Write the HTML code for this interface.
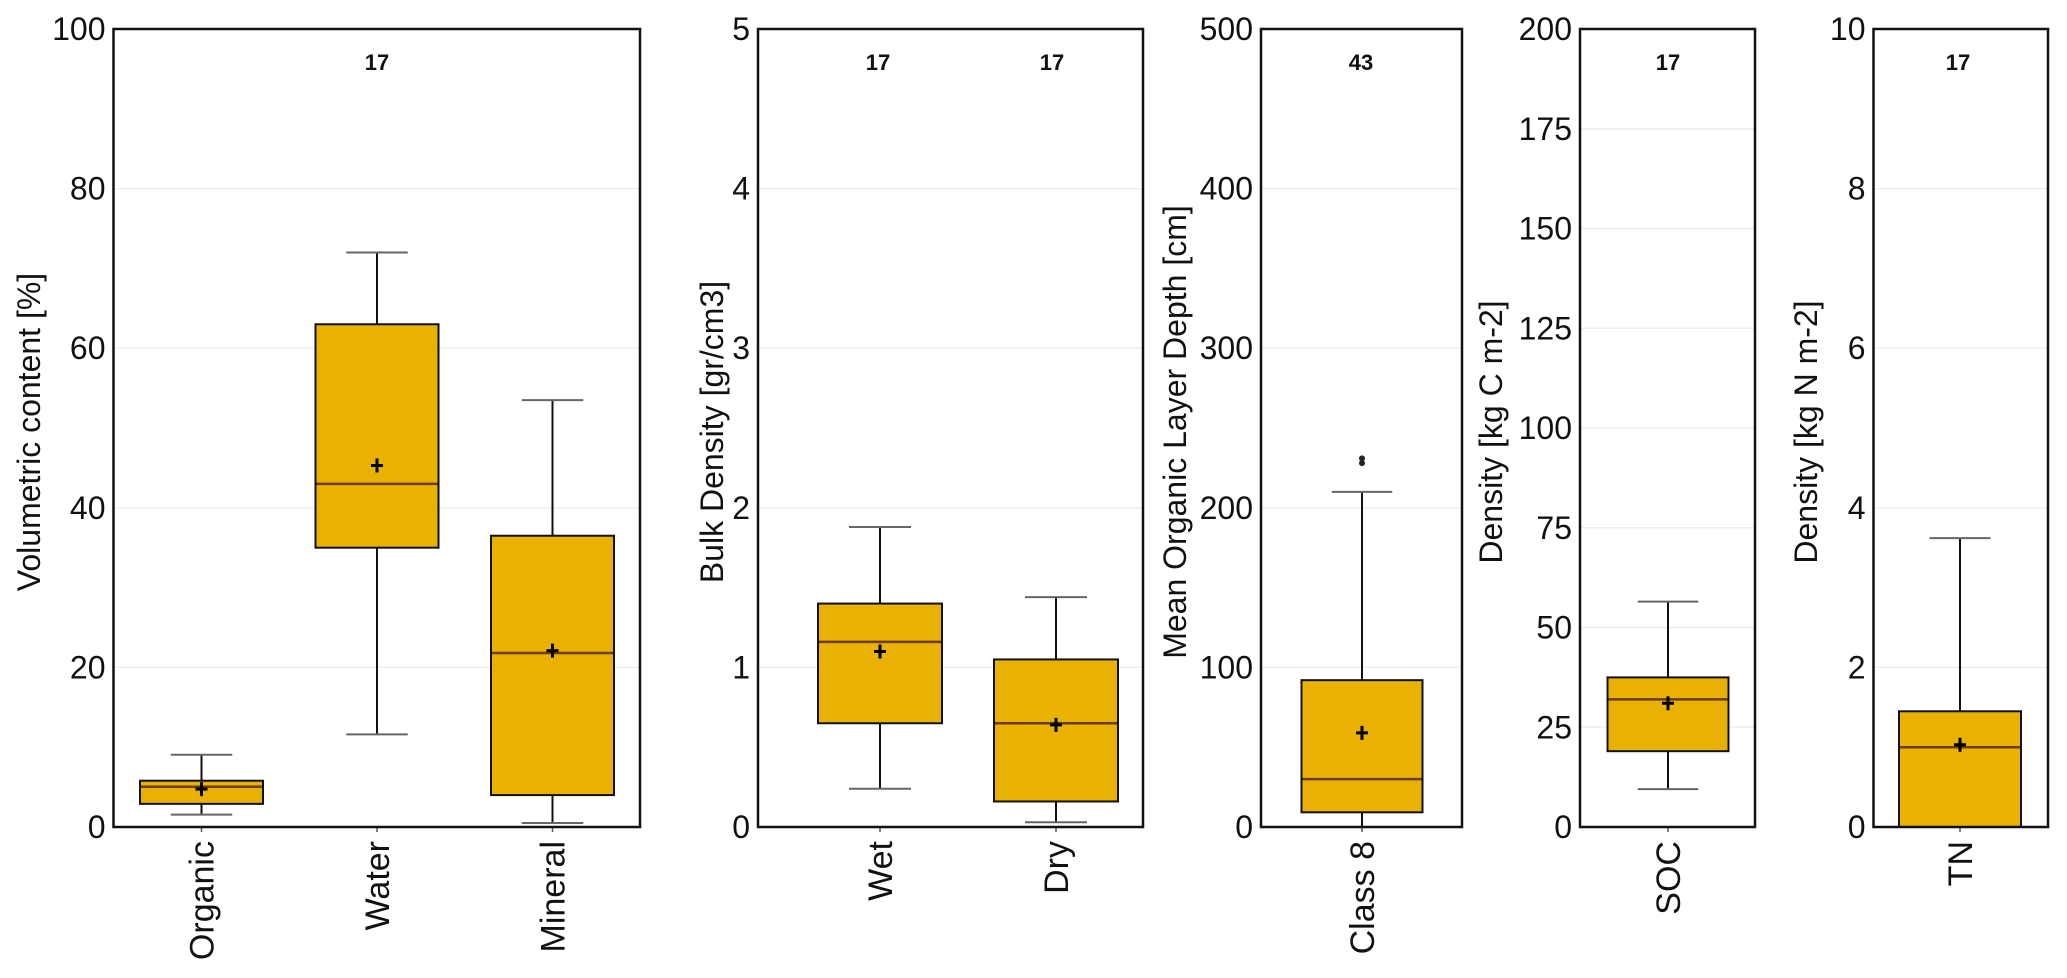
<!DOCTYPE html>
<html><head><meta charset="utf-8"><style>
html,body{margin:0;padding:0;background:#fff;}
svg{display:block;font-family:"Liberation Sans",Arial,sans-serif;}
</style></head><body>
<svg id="chart" width="2067" height="978" viewBox="0 0 2067 978" xmlns="http://www.w3.org/2000/svg"></svg>
<script>
// ---- data arrays ----
const categories = [["Organic","Water","Mineral"],["Wet","Dry"],["Class 8"],["SOC"],["TN"]];
const whiskerLow = [[1.55,11.6,0.5],[0.24,0.03],[0],[9.5],[0]];
const q1Values = [[2.9,35,4.0],[0.65,0.16],[9.2],[19],[0]];
const medianValues = [[5.05,43,21.8],[1.16,0.65],[30],[32],[1.0]];
const q3Values = [[5.8,63,36.5],[1.40,1.05],[92],[37.5],[1.45]];
const whiskerHigh = [[9.05,72,53.5],[1.88,1.44],[210],[56.5],[3.62]];
const meanValues = [[4.75,45.3,22.1],[1.1,0.64],[59],[31],[1.03]];
const outlierValues = [[[],[],[]],[[],[]],[[228,231]],[[]],[[]]];
const countLabels = [["","17",""],["17","17"],["43"],["17"],["17"]];
const yMaxValues = [100,5,500,200,10];
const yTicks = [[0,20,40,60,80,100],[0,1,2,3,4,5],[0,100,200,300,400,500],[0,25,50,75,100,125,150,175,200],[0,2,4,6,8,10]];
const yTitles = ["Volumetric content [%]","Bulk Density [gr/cm3]","Mean Organic Layer Depth [cm]","Density [kg C m-2]","Density [kg N m-2]"];

// ---- layout (not data) ----
const panels = [
 {l:113.5,r:640,centers:[201.5,377,552.5],bw:123,countX:[null,377,null],titleX:29},
 {l:758,r:1143,centers:[880,1056],bw:124,countX:[878,1052],titleX:712},
 {l:1261,r:1462,centers:[1362],bw:121,countX:[1361],titleX:1175},
 {l:1580,r:1755,centers:[1668],bw:121,countX:[1668],titleX:1491},
 {l:1873.5,r:2048,centers:[1960],bw:122,countX:[1958],titleX:1806}
];
const TOP=29, BOT=827;
const svg=document.getElementById('chart');
const NS='http://www.w3.org/2000/svg';
function mk(tag,attrs,parent){const e=document.createElementNS(NS,tag);for(const k in attrs)e.setAttribute(k,attrs[k]);(parent||svg).appendChild(e);return e;}

panels.forEach((p,pi)=>{
  const g=mk('g',{});
  
  
  const y=v=>BOT-(v/yMaxValues[pi])*(BOT-TOP);
  yTicks[pi].forEach(t=>{
    const yy=y(t);
    if(t>0&&t<yMaxValues[pi]){
      const gl=mk('line',{x1:p.l,x2:p.r,y1:yy,y2:yy,stroke:'#eeeeee','stroke-width':1.5},g);
      
      
    }
    const tl=mk('text',{x:p.l-8,y:yy+11,'text-anchor':'end','font-size':32,fill:'#111'},g);
    tl.textContent=t;
    
    
  });
  const tt=mk('text',{x:p.titleX,y:432,'text-anchor':'middle','font-size':32,fill:'#111',transform:`rotate(-90 ${p.titleX} 432)`,dy:11},g);
  tt.textContent=yTitles[pi];
  
  
  categories[pi].forEach((c,ci)=>{
    const cx=p.centers[ci], bw=p.bw, cap=bw/2;
    const bg=mk('g',{},g);
    
    
    const lo=y(whiskerLow[pi][ci]), q1=y(q1Values[pi][ci]), md=y(medianValues[pi][ci]), q3=y(q3Values[pi][ci]), hi=y(whiskerHigh[pi][ci]);
    mk('line',{x1:cx,x2:cx,y1:hi,y2:q3,stroke:'#111','stroke-width':2},bg);
    mk('line',{x1:cx,x2:cx,y1:q1,y2:lo,stroke:'#111','stroke-width':2},bg);
    mk('line',{x1:cx-cap/2,x2:cx+cap/2,y1:hi,y2:hi,stroke:'#666','stroke-width':2},bg);
    mk('line',{x1:cx-cap/2,x2:cx+cap/2,y1:lo,y2:lo,stroke:'#666','stroke-width':2},bg);
    const rect=mk('rect',{x:cx-bw/2,y:q3,width:bw,height:Math.max(0,q1-q3),fill:'#E9B104',stroke:'#111','stroke-width':2},bg);
    
    
    mk('line',{x1:cx-bw/2+1,x2:cx+bw/2-1,y1:md,y2:md,stroke:'#6a3d00','stroke-width':2.5},bg);
    const mn=y(meanValues[pi][ci]);
    mk('path',{d:`M${cx-6} ${mn}H${cx+6}M${cx} ${mn-7}V${mn+7}`,stroke:'#000','stroke-width':3},bg);
    outlierValues[pi][ci].forEach(o=>{
      const d=mk('circle',{cx:cx,cy:y(o),r:3,fill:'#222'},bg);
      
      
    });
    mk('line',{x1:cx,x2:cx,y1:BOT,y2:BOT+5,stroke:'#555','stroke-width':1.5},g);
    const xl=mk('text',{x:cx,y:BOT+14,'text-anchor':'end','font-size':34,fill:'#111',transform:`rotate(-90 ${cx} ${BOT+14})`,dy:12},g);
    xl.textContent=c;
    
    
    if(countLabels[pi][ci]){
      const cl=mk('text',{x:p.countX[ci],y:70,'text-anchor':'middle','font-size':22,'font-weight':'bold',fill:'#111'},g);
      cl.textContent=countLabels[pi][ci];
      
      
    }
  });
  const fr=mk('rect',{x:p.l,y:TOP,width:p.r-p.l,height:BOT-TOP,fill:'none',stroke:'#111','stroke-width':2.5},g);
  
  
});
</script>
</body></html>
